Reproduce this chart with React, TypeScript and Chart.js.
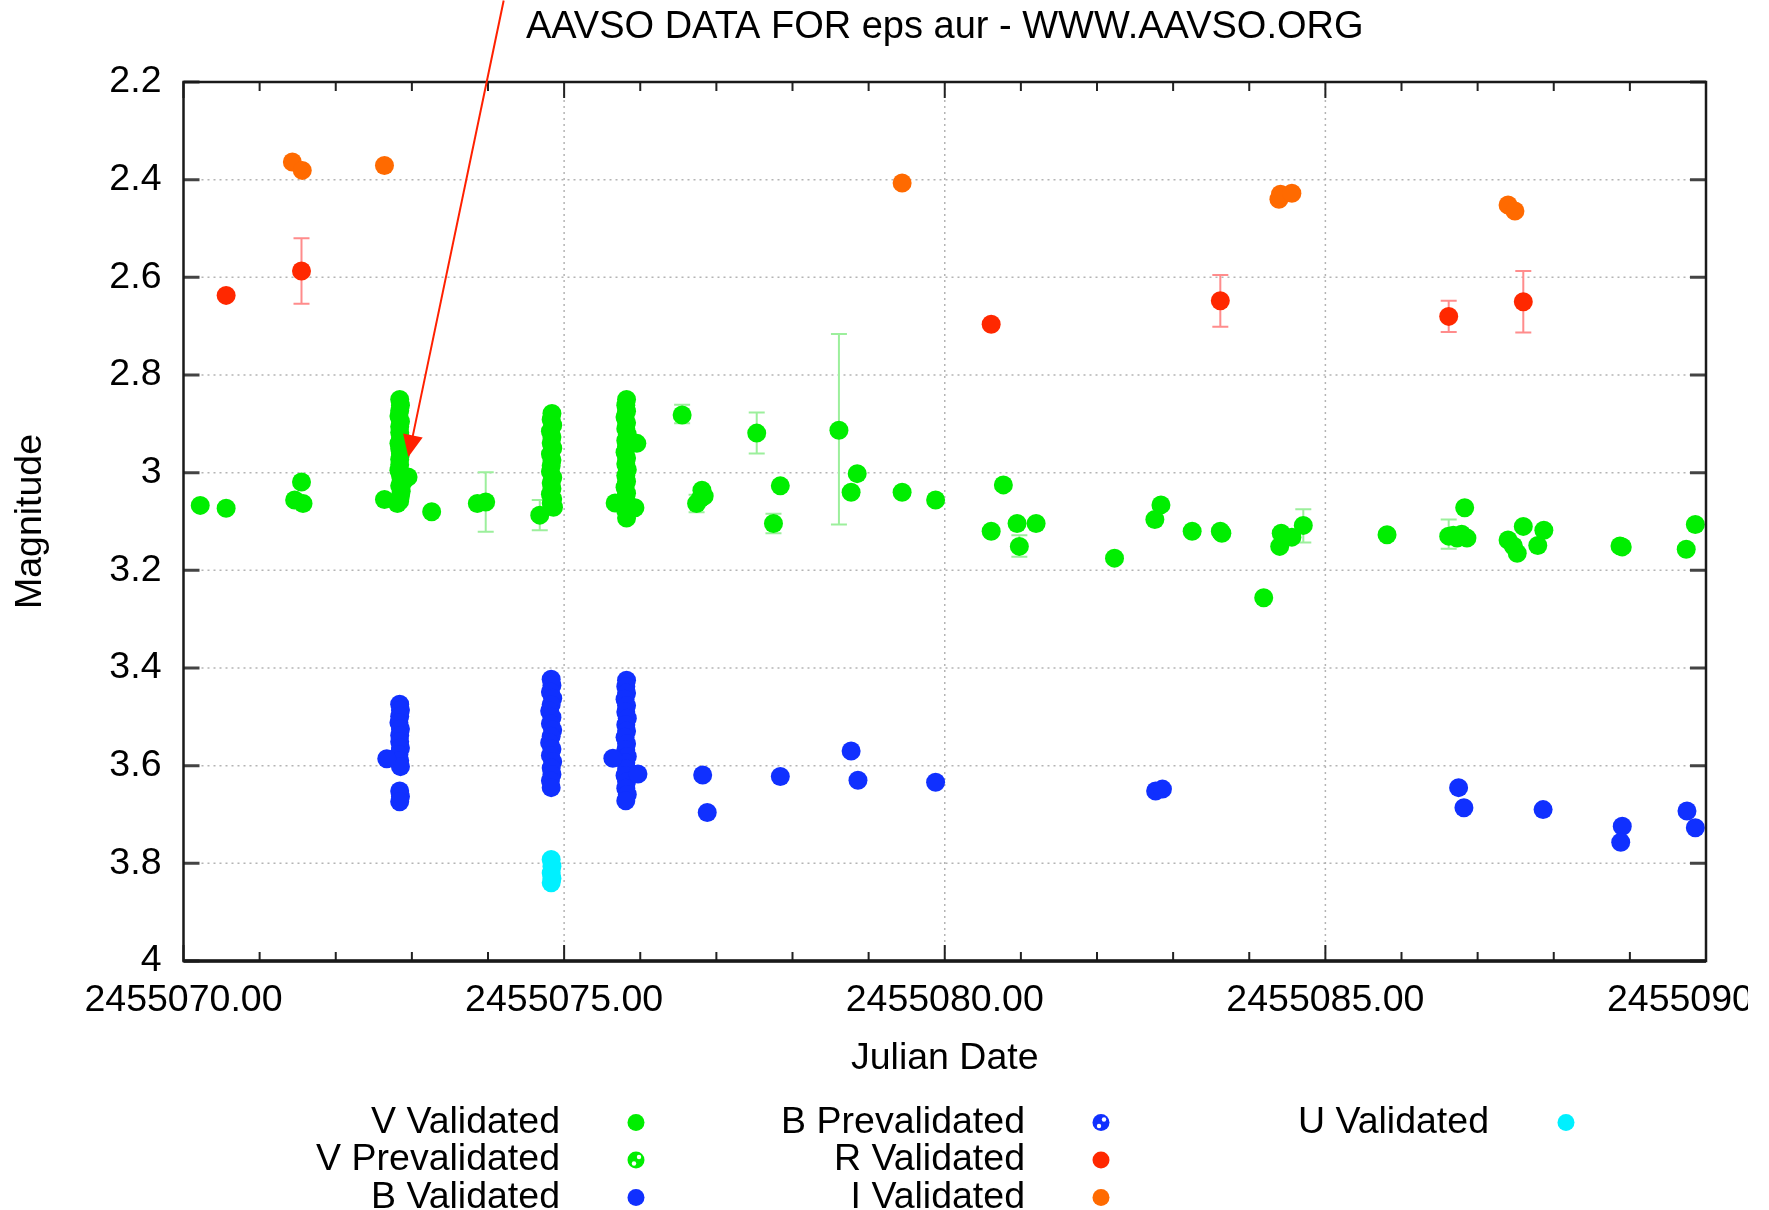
import React, { useEffect, useRef } from "react";
import { Chart, registerables } from "chart.js";

Chart.register(...registerables);

// ---------- Data ----------
const JD_BASE = 2455070;
const TITLE = "AAVSO DATA FOR eps aur - WWW.AAVSO.ORG";
const X_TITLE = "Julian Date";
const Y_TITLE = "Magnitude";

const xTickDays = [0, 5, 10, 15, 20];
const xMinorDays = [0, 1, 2, 3, 4, 5, 6, 7, 8, 9, 10, 11, 12, 13, 14, 15, 16, 17, 18, 19, 20];
const yTickValues = [2.2, 2.4, 2.6, 2.8, 3.0, 3.2, 3.4, 3.6, 3.8, 4.0];
const yTickLabels = ["2.2", "2.4", "2.6", "2.8", "3", "3.2", "3.4", "3.6", "3.8", "4"];

// [day offset from JD 2455070, magnitude]
const vValidated: [number, number][] = [
  [0.22, 3.067], [0.56, 3.073], [1.46, 3.056], [1.55, 3.019], [1.57, 3.063], [2.64, 3.055],
  [2.84, 2.850], [2.85, 2.862], [2.84, 2.873], [2.83, 2.884], [2.85, 2.895], [2.84, 2.906],
  [2.84, 2.918], [2.85, 2.929], [2.83, 2.940], [2.84, 2.951], [2.85, 2.962], [2.84, 2.973],
  [2.84, 2.984], [2.83, 2.995], [2.85, 3.006], [2.86, 3.016], [2.84, 3.027], [2.86, 3.038],
  [2.85, 3.048], [2.84, 3.058], [2.81, 3.063], [2.88, 3.020], [2.95, 3.009],
  [3.26, 3.080], [3.86, 3.063], [3.97, 3.060], [4.68, 3.087],
  [4.84, 2.879], [4.83, 2.891], [4.85, 2.903], [4.82, 2.915], [4.84, 2.927], [4.83, 2.939],
  [4.85, 2.950], [4.82, 2.962], [4.84, 2.974], [4.83, 2.986], [4.82, 2.998], [4.85, 3.010],
  [4.83, 3.021], [4.84, 3.033], [4.82, 3.044], [4.85, 3.054], [4.83, 3.062], [4.86, 3.071],
  [5.82, 2.850], [5.81, 2.862], [5.82, 2.874], [5.80, 2.886], [5.82, 2.898], [5.81, 2.910],
  [5.83, 2.922], [5.81, 2.934], [5.82, 2.946], [5.80, 2.958], [5.82, 2.970], [5.81, 2.982],
  [5.83, 2.994], [5.81, 3.006], [5.82, 3.018], [5.80, 3.030], [5.82, 3.042], [5.81, 3.054],
  [5.83, 3.066], [5.81, 3.078], [5.82, 3.093], [5.955, 2.940], [5.67, 3.062], [5.93, 3.072],
  [6.55, 2.882], [6.74, 3.063], [6.79, 3.053], [6.81, 3.036], [6.84, 3.048],
  [7.53, 2.919], [7.75, 3.104], [7.84, 3.027], [8.61, 2.913], [8.77, 3.040], [8.85, 3.002],
  [9.44, 3.040], [9.88, 3.056], [10.61, 3.120], [10.77, 3.025], [10.95, 3.104], [10.98, 3.151],
  [11.20, 3.104], [12.23, 3.175], [12.76, 3.096], [12.84, 3.066], [13.25, 3.120], [13.62, 3.120],
  [13.64, 3.124], [14.19, 3.256], [14.40, 3.151], [14.42, 3.124], [14.56, 3.132], [14.71, 3.108],
  [15.81, 3.127], [16.62, 3.130], [16.68, 3.128], [16.73, 3.134], [16.79, 3.126], [16.86, 3.134],
  [16.83, 3.072], [17.40, 3.138], [17.47, 3.150], [17.52, 3.165], [17.60, 3.110], [17.79, 3.149],
  [17.87, 3.118], [18.87, 3.150], [18.90, 3.152], [19.74, 3.157], [19.86, 3.106],
];
const vPrevalidated: [number, number][] = [];

const bValidated: [number, number][] = [
  [2.84, 3.474], [2.85, 3.486], [2.84, 3.499], [2.83, 3.512], [2.85, 3.525], [2.84, 3.538],
  [2.84, 3.551], [2.85, 3.564], [2.83, 3.577], [2.84, 3.590], [2.85, 3.602], [2.67, 3.586],
  [2.84, 3.652], [2.85, 3.663], [2.84, 3.674],
  [4.83, 3.423], [4.84, 3.436], [4.82, 3.449], [4.85, 3.462], [4.83, 3.475], [4.81, 3.488],
  [4.84, 3.501], [4.82, 3.514], [4.85, 3.527], [4.83, 3.540], [4.81, 3.553], [4.84, 3.566],
  [4.82, 3.579], [4.85, 3.592], [4.83, 3.605], [4.84, 3.618], [4.82, 3.631], [4.83, 3.645],
  [5.82, 3.425], [5.81, 3.438], [5.82, 3.451], [5.80, 3.464], [5.82, 3.477], [5.81, 3.490],
  [5.83, 3.503], [5.81, 3.516], [5.82, 3.529], [5.80, 3.542], [5.82, 3.555], [5.81, 3.568],
  [5.83, 3.581], [5.81, 3.594], [5.82, 3.607], [5.80, 3.620], [5.82, 3.633], [5.81, 3.646],
  [5.83, 3.659], [5.81, 3.672], [5.97, 3.617], [5.64, 3.585],
  [6.82, 3.619], [6.88, 3.696], [7.84, 3.622], [8.77, 3.570], [8.86, 3.630], [9.88, 3.634],
  [12.77, 3.652], [12.86, 3.648], [16.75, 3.645], [16.82, 3.686], [17.86, 3.690],
  [18.90, 3.724], [18.88, 3.757], [19.75, 3.693], [19.86, 3.727],
];
const bPrevalidated: [number, number][] = [];

const rValidated: [number, number][] = [
  [0.56, 2.637], [1.55, 2.587], [10.61, 2.696], [13.62, 2.648], [16.62, 2.680], [17.60, 2.650],
];

const iValidated: [number, number][] = [
  [1.43, 2.364], [1.56, 2.381], [2.64, 2.371], [9.44, 2.407], [14.39, 2.440], [14.41, 2.430],
  [14.56, 2.428], [17.40, 2.452], [17.49, 2.464],
];

const uValidated: [number, number][] = [
  [4.83, 3.792], [4.84, 3.806], [4.83, 3.820], [4.84, 3.831], [4.83, 3.840],
];

// error bars: [day, magnitude, half-width]
const vErrors: [number, number, number][] = [
  [3.97, 3.060, 0.061], [4.68, 3.087, 0.031], [6.55, 2.880, 0.019], [6.74, 3.063, 0.018],
  [7.53, 2.919, 0.042], [7.75, 3.104, 0.020], [8.61, 2.911, 0.195], [10.98, 3.150, 0.022],
  [14.71, 3.109, 0.034], [16.62, 3.126, 0.030],
];
const rErrors: [number, number, number][] = [
  [1.55, 2.587, 0.067], [13.62, 2.648, 0.053], [16.62, 2.680, 0.032], [17.60, 2.650, 0.063],
];

// annotation arrow: [day, magnitude] from -> to
const arrowFrom: [number, number] = [4.206, 2.033];
const arrowTo: [number, number] = [2.954, 2.968];

// ---------- Styles ----------
const GREEN = "#00ee00";
const BLUE = "#1030ff";
const RED = "#ff2800";
const ORANGE = "#ff6a00";
const CYAN = "#00f0ff";
const GREEN_ERR = "#9cef9c";
const RED_ERR = "#ff8c8c";
const FONT = "'Liberation Sans', Arial, Helvetica, sans-serif";
const FONT_SIZE = 37.5;
const TITLE_SIZE = 38;
const POINT_R = 9.5;

const legendItems = [
  { label: "V Validated", color: GREEN, pattern: false, col: 0, row: 0 },
  { label: "V Prevalidated", color: GREEN, pattern: true, col: 0, row: 1 },
  { label: "B Validated", color: BLUE, pattern: false, col: 0, row: 2 },
  { label: "B Prevalidated", color: BLUE, pattern: true, col: 1, row: 0 },
  { label: "R Validated", color: RED, pattern: false, col: 1, row: 1 },
  { label: "I Validated", color: ORANGE, pattern: false, col: 1, row: 2 },
  { label: "U Validated", color: CYAN, pattern: false, col: 2, row: 0 },
];
const legendTextRight = [560, 1025, 1489];
const legendMarkerX = [636, 1101, 1566];
const legendRowY = [1122.5, 1160, 1197.5];

const toPoints = (arr: [number, number][]) => arr.map(([d, m]) => ({ x: JD_BASE + d, y: m }));

function drawMarker(ctx: CanvasRenderingContext2D, x: number, y: number, color: string, pattern: boolean) {
  ctx.beginPath();
  ctx.fillStyle = color;
  ctx.arc(x, y, 8.5, 0, Math.PI * 2);
  ctx.fill();
  if (pattern) {
    ctx.fillStyle = "#ffffff";
    ctx.beginPath();
    ctx.arc(x + 3, y - 3, 2.2, 0, Math.PI * 2);
    ctx.fill();
    ctx.beginPath();
    ctx.arc(x - 2, y + 3.5, 2.2, 0, Math.PI * 2);
    ctx.fill();
  }
}

const gnuplotPlugin = {
  id: "gnuplotLook",
  beforeDatasetsDraw(chart: any) {
    const { ctx, chartArea: a, scales } = chart;
    const xs = scales.x;
    const ys = scales.y;
    ctx.save();
    ctx.strokeStyle = "#b4b4b4";
    ctx.lineWidth = 1.5;
    ctx.setLineDash([2, 4]);
    for (const v of yTickValues) {
      const y = ys.getPixelForValue(v);
      if (y <= a.top + 2 || y >= a.bottom - 2) continue;
      ctx.beginPath();
      ctx.moveTo(a.left, y);
      ctx.lineTo(a.right, y);
      ctx.stroke();
    }
    for (const d of xTickDays) {
      const x = xs.getPixelForValue(JD_BASE + d);
      if (x <= a.left + 2 || x >= a.right - 2) continue;
      ctx.beginPath();
      ctx.moveTo(x, a.top);
      ctx.lineTo(x, a.bottom);
      ctx.stroke();
    }
    ctx.setLineDash([]);
    const drawErr = (list: [number, number, number][], color: string) => {
      ctx.strokeStyle = color;
      ctx.lineWidth = 2;
      for (const [d, m, e] of list) {
        const x = xs.getPixelForValue(JD_BASE + d);
        const y1 = ys.getPixelForValue(m - e);
        const y2 = ys.getPixelForValue(m + e);
        ctx.beginPath();
        ctx.moveTo(x, y1);
        ctx.lineTo(x, y2);
        ctx.moveTo(x - 8, y1);
        ctx.lineTo(x + 8, y1);
        ctx.moveTo(x - 8, y2);
        ctx.lineTo(x + 8, y2);
        ctx.stroke();
      }
    };
    drawErr(vErrors, GREEN_ERR);
    drawErr(rErrors, RED_ERR);
    ctx.restore();
  },
  afterDraw(chart: any) {
    const { ctx, chartArea: a, scales } = chart;
    const xs = scales.x;
    const ys = scales.y;
    ctx.save();
    // tick marks (inside, mirrored)
    ctx.strokeStyle = "#222";
    ctx.lineWidth = 2;
    for (const d of xMinorDays) {
      const x = xs.getPixelForValue(JD_BASE + d);
      const len = xTickDays.includes(d) ? 16 : 9;
      ctx.beginPath();
      ctx.moveTo(x, a.bottom);
      ctx.lineTo(x, a.bottom - len);
      ctx.moveTo(x, a.top);
      ctx.lineTo(x, a.top + len);
      ctx.stroke();
    }
    ctx.strokeStyle = "#444";
    ctx.lineWidth = 3;
    for (const v of yTickValues) {
      const y = ys.getPixelForValue(v);
      ctx.beginPath();
      ctx.moveTo(a.left, y);
      ctx.lineTo(a.left + 16, y);
      ctx.moveTo(a.right, y);
      ctx.lineTo(a.right - 16, y);
      ctx.stroke();
    }
    // frame
    ctx.strokeStyle = "#1a1a1a";
    ctx.lineWidth = 2.5;
    ctx.strokeRect(a.left, a.top, a.right - a.left, a.bottom - a.top);
    ctx.lineWidth = 3.5;
    ctx.beginPath();
    ctx.moveTo(a.left, a.bottom);
    ctx.lineTo(a.right, a.bottom);
    ctx.stroke();

    // legend
    ctx.font = `${FONT_SIZE}px ${FONT}`;
    ctx.textAlign = "right";
    ctx.textBaseline = "middle";
    for (const it of legendItems) {
      const y = legendRowY[it.row];
      ctx.fillStyle = "#000";
      ctx.fillText(it.label, legendTextRight[it.col], y);
      drawMarker(ctx, legendMarkerX[it.col], y, it.color, it.pattern);
    }

    // annotation arrow
    const x1 = xs.getPixelForValue(JD_BASE + arrowFrom[0]);
    const y1 = ys.getPixelForValue(arrowFrom[1]);
    const x2 = xs.getPixelForValue(JD_BASE + arrowTo[0]);
    const y2 = ys.getPixelForValue(arrowTo[1]);
    const ang = Math.atan2(y2 - y1, x2 - x1);
    const hl = 22;
    const hw = 10;
    ctx.strokeStyle = "#ff2000";
    ctx.fillStyle = "#ff2000";
    ctx.lineWidth = 2;
    ctx.beginPath();
    ctx.moveTo(x1, y1);
    ctx.lineTo(x2 - Math.cos(ang) * hl * 0.6, y2 - Math.sin(ang) * hl * 0.6);
    ctx.stroke();
    const bx = x2 - Math.cos(ang) * hl;
    const by = y2 - Math.sin(ang) * hl;
    ctx.beginPath();
    ctx.moveTo(x2, y2);
    ctx.lineTo(bx + Math.sin(ang) * hw, by - Math.cos(ang) * hw);
    ctx.lineTo(bx - Math.sin(ang) * hw, by + Math.cos(ang) * hw);
    ctx.closePath();
    ctx.fill();
    ctx.restore();
  },
};

export default function App() {
  const ref = useRef<HTMLCanvasElement>(null);

  useEffect(() => {
    const canvas = ref.current;
    if (!canvas) return;
    Chart.defaults.font.family = FONT;
    const ds = (label: string, data: [number, number][], color: string) => ({
      label,
      data: toPoints(data),
      backgroundColor: color,
      borderColor: color,
      borderWidth: 0,
      pointRadius: POINT_R,
      pointHoverRadius: POINT_R,
      pointStyle: "circle",
    });
    const chart = new Chart(canvas, {
      type: "scatter",
      data: {
        datasets: [
          ds("U Validated", uValidated, CYAN),
          ds("I Validated", iValidated, ORANGE),
          ds("R Validated", rValidated, RED),
          ds("B Prevalidated", bPrevalidated, BLUE),
          ds("B Validated", bValidated, BLUE),
          ds("V Prevalidated", vPrevalidated, GREEN),
          ds("V Validated", vValidated, GREEN),
        ],
      },
      options: {
        responsive: false,
        animation: false,
        devicePixelRatio: 1,
        layout: { padding: { left: 0, right: 42, top: 0, bottom: 0 } },
        plugins: {
          legend: { display: false },
          tooltip: { enabled: false },
          title: {
            display: true,
            text: TITLE,
            fullSize: false,
            color: "#000",
            font: { size: TITLE_SIZE, weight: "normal", family: FONT },
            padding: { top: 4.5, bottom: 31.9 },
          },
        },
        scales: {
          x: {
            type: "linear",
            min: JD_BASE + xTickDays[0],
            max: JD_BASE + xTickDays[xTickDays.length - 1],
            grid: { display: false, drawTicks: false, tickLength: 0 },
            border: { display: false },
            afterBuildTicks: (s: any) => {
              s.ticks = xTickDays.map((d) => ({ value: JD_BASE + d }));
            },
            afterFit: (s: any) => {
              s.height = 249;
              s.paddingLeft = 0;
              s.paddingRight = 0;
            },
            ticks: {
              color: "#000",
              font: { size: FONT_SIZE, family: FONT },
              padding: 17.5,
              maxRotation: 0,
              minRotation: 0,
              autoSkip: false,
              callback: (v: any) => Number(v).toFixed(2),
            },
            title: {
              display: true,
              text: X_TITLE,
              color: "#000",
              font: { size: FONT_SIZE, family: FONT },
              padding: { top: 0, bottom: 128.5 },
            },
          },
          y: {
            type: "linear",
            reverse: true,
            min: yTickValues[0],
            max: yTickValues[yTickValues.length - 1],
            grid: { display: false, drawTicks: false, tickLength: 0 },
            border: { display: false },
            afterBuildTicks: (s: any) => {
              s.ticks = yTickValues.map((v) => ({ value: v }));
            },
            afterFit: (s: any) => {
              s.width = 183.5;
              s.paddingTop = 0;
              s.paddingBottom = 0;
            },
            ticks: {
              color: "#000",
              font: { size: FONT_SIZE, family: FONT },
              padding: 22,
              autoSkip: false,
              callback: (_v: any, i: number) => yTickLabels[i],
            },
            title: {
              display: true,
              text: Y_TITLE,
              color: "#000",
              font: { size: FONT_SIZE, family: FONT },
              padding: { top: 8, bottom: 0 },
            },
          },
        },
      },
      plugins: [gnuplotPlugin],
    } as any);
    return () => chart.destroy();
  }, []);

  return (
    <div style={{ position: "fixed", left: 0, top: 0, width: 1769, height: 1210, background: "#fff" }}>
      <canvas ref={ref} width={1748} height={1210} style={{ width: 1748, height: 1210, display: "block" }} />
    </div>
  );
}
